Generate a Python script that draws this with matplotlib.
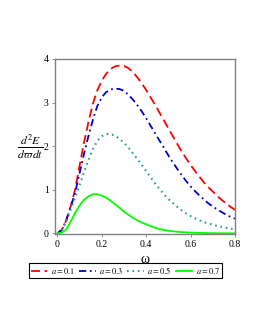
import matplotlib
matplotlib.use("Agg")
import matplotlib.pyplot as plt

# omega grid (every 0.02)
omega = [0.00, 0.02, 0.04, 0.06, 0.08, 0.10, 0.12, 0.14, 0.16, 0.18, 0.20,
         0.22, 0.24, 0.26, 0.28, 0.30, 0.32, 0.34, 0.36, 0.38, 0.40,
         0.42, 0.44, 0.46, 0.48, 0.50, 0.52, 0.54, 0.56, 0.58, 0.60,
         0.62, 0.64, 0.66, 0.68, 0.70, 0.72, 0.74, 0.76, 0.78, 0.80]

e_a01 = [0.0, 0.08, 0.30, 0.62, 1.00, 1.55, 2.08, 2.55, 2.97, 3.28, 3.50,
         3.66, 3.77, 3.83, 3.85, 3.84, 3.79, 3.70, 3.58, 3.44, 3.29,
         3.12, 2.95, 2.77, 2.59, 2.41, 2.23, 2.05, 1.88, 1.72, 1.57,
         1.43, 1.30, 1.17, 1.06, 0.96, 0.86, 0.77, 0.69, 0.61, 0.54]

e_a03 = [0.0, 0.08, 0.30, 0.60, 0.93, 1.38, 1.82, 2.23, 2.60, 2.92, 3.12,
         3.24, 3.30, 3.32, 3.31, 3.27, 3.18, 3.07, 2.94, 2.80, 2.64,
         2.47, 2.30, 2.13, 1.96, 1.79, 1.63, 1.48, 1.34, 1.20, 1.08,
         0.97, 0.87, 0.78, 0.69, 0.62, 0.55, 0.49, 0.43, 0.38, 0.34]

e_a05 = [0.0, 0.07, 0.27, 0.55, 0.82, 1.10, 1.40, 1.68, 1.93, 2.12, 2.23,
         2.28, 2.28, 2.24, 2.17, 2.08, 1.97, 1.84, 1.71, 1.57, 1.43,
         1.29, 1.15, 1.02, 0.90, 0.79, 0.70, 0.61, 0.53, 0.46, 0.40,
         0.35, 0.30, 0.26, 0.23, 0.20, 0.17, 0.15, 0.13, 0.11, 0.10]

e_a07 = [0.0, 0.02, 0.09, 0.27, 0.47, 0.64, 0.77, 0.85, 0.90, 0.90, 0.87,
         0.82, 0.75, 0.67, 0.59, 0.50, 0.43, 0.36, 0.30, 0.25, 0.21,
         0.17, 0.13, 0.10, 0.08, 0.06, 0.05, 0.04, 0.03, 0.025, 0.02,
         0.016, 0.013, 0.010, 0.008, 0.007, 0.005, 0.004, 0.003, 0.003, 0.002]

labels = [r"$a=0.1$", r"$a=0.3$", r"$a=0.5$", r"$a=0.7$"]
x_ticks = [0, 0.2, 0.4, 0.6, 0.8]
x_tick_labels = ["0", "0.2", "0.4", "0.6", "0.8"]
y_ticks = [0, 1, 2, 3, 4]

plt.rcParams["font.family"] = ["Liberation Serif", "DejaVu Serif"]
plt.rcParams["mathtext.fontset"] = "stix"

fig = plt.figure(figsize=(2.58, 3.33), dpi=100)
ax = fig.add_axes([55 / 258, 1 - 234 / 333, 180 / 258, 175.5 / 333])

ax.plot(omega, e_a01, color="#ff0000", lw=1.3, dashes=(5, 2.5), label=labels[0])
ax.plot(omega, e_a03, color="#0000cc", lw=1.3, dashes=(4, 2, 1, 2), label=labels[1])
ax.plot(omega, e_a05, color="#2e9b9b", lw=1.5, dashes=(0.8, 1.8), label=labels[2])
ax.plot(omega, e_a07, color="#00ff00", lw=1.3, label=labels[3])

ax.set_xlim(-0.0104, 0.8)
ax.set_ylim(-0.012, 4.01)
ax.set_xticks(x_ticks)
ax.set_xticklabels(x_tick_labels)
ax.set_yticks(y_ticks)
ax.tick_params(direction="out", length=2.5, width=0.6, color="#808080",
               labelsize=7, pad=2)
for sp in ax.spines.values():
    sp.set_color("#808080")
    sp.set_linewidth(1.0)

ax.set_xlabel("ω", fontsize=10, labelpad=3)
ax.set_ylabel(r"$\frac{d^2E}{d\varpi dt}$", fontsize=12, rotation=0,
              ha="center", va="center")
ax.yaxis.set_label_coords(-0.14, 0.5)

leg = fig.legend(loc="center", bbox_to_anchor=(0.4864, 0.1868), ncol=4,
                 fontsize=6, handlelength=2.0, handletextpad=0.4,
                 columnspacing=0.5, borderpad=0.25, fancybox=False,
                 framealpha=1, edgecolor="black")
leg.get_frame().set_linewidth(0.8)

fig.savefig("out.png", dpi=100)
plt.close(fig)
